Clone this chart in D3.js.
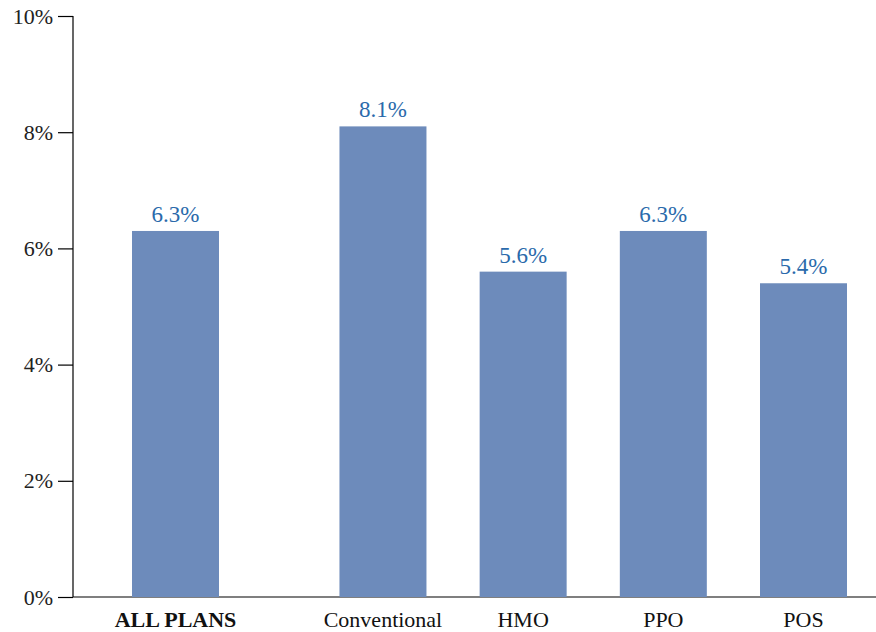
<!DOCTYPE html>
<html><head><meta charset="utf-8">
<script src="https://cdn.jsdelivr.net/npm/d3@7"></script>
<style>body{margin:0;background:#fff}svg{display:block}</style>
</head><body>
<script>
const categories = ["ALL PLANS", "Conventional", "HMO", "PPO", "POS"];
const slots = [0, 1.48, 2.48, 3.48, 4.48];
const values = [6.3, 8.1, 5.6, 6.3, 5.4];
const valueLabels = ["6.3%", "8.1%", "5.6%", "6.3%", "5.4%"];
const yTicks = [0, 2, 4, 6, 8, 10];
const yTickLabels = ["0%", "2%", "4%", "6%", "8%", "10%"];

const W = 876, H = 632;
const font = "Liberation Serif, DejaVu Serif, serif";
const svg = d3.select("body").append("svg").attr("width", W).attr("height", H);

const y = d3.scaleLinear().domain([0, 10]).range([597, 16]);
const x = d3.scaleLinear().domain([0, 4.48]).range([175.5, 803.5]);
const barW = 87;

// x axis line
svg.append("line").attr("x1", 73).attr("x2", W).attr("y1", y(0)).attr("y2", y(0))
  .attr("stroke", "#000").attr("stroke-width", 1.2);

// y axis
const yAxis = d3.axisLeft(y).tickValues(yTicks).tickSize(15).tickPadding(5)
  .tickFormat((d, i) => yTickLabels[i]);
const gy = svg.append("g").attr("transform", "translate(73,0)").call(yAxis);
gy.attr("font-family", font).attr("font-size", 22);
gy.select(".domain").attr("d", `M0,${y(10)}V${y(0)}`).attr("stroke-width", 1.2);
gy.selectAll(".tick line").attr("stroke-width", 1.2);
gy.selectAll("text").style("font-family", font).style("font-size", "22px").attr("fill", "#222");

// bars
svg.selectAll("rect.bar").data(values).enter().append("rect")
  .attr("class", "bar")
  .attr("x", (d, i) => x(slots[i]) - barW / 2)
  .attr("width", barW)
  .attr("y", d => y(d))
  .attr("height", d => y(0) - y(d))
  .attr("fill", "#6d8bbb");

// value labels
svg.selectAll("text.val").data(values).enter().append("text")
  .attr("class", "val")
  .attr("x", (d, i) => x(slots[i]))
  .attr("y", d => y(d) - 9)
  .attr("text-anchor", "middle")
  .style("font-family", font).style("font-size", "23px")
  .attr("fill", "#2a6aab")
  .text((d, i) => valueLabels[i]);

// category labels
svg.selectAll("text.cat").data(categories).enter().append("text")
  .attr("class", "cat")
  .attr("x", (d, i) => x(slots[i]))
  .attr("y", 627)
  .attr("text-anchor", "middle")
  .style("font-family", font).style("font-size", "22px")
  .attr("font-weight", (d, i) => i === 0 ? "bold" : "normal")
  .attr("fill", "#111")
  .text(d => d);
</script>
</body></html>
